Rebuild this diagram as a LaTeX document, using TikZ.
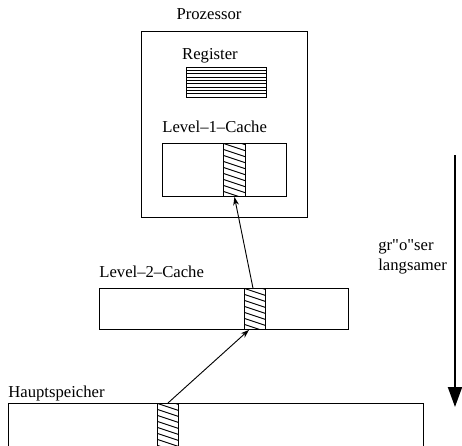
\documentclass[tikz,border=0pt]{standalone}
\usepackage{fontspec}
\setmainfont{Liberation Serif}[Ligatures=TeXOff]
\usetikzlibrary{arrows.meta}
\newcommand{\px}{0.6pt}

\begin{document}
\begin{tikzpicture}[x=0.6pt,y=-0.6pt,>={Stealth[length=5pt,width=3.5pt]},
  box/.style={draw,line width=0.55pt,anchor=north west,inner sep=0pt},
  hatched/.style={box,path picture={
    \foreach \k in {-8,...,12}
      \draw[line width=0.55pt] (path picture bounding box.north west) ++(0,\k*6) -- ++(30,10);}},
  lbl/.style={anchor=west,inner sep=0pt,font=\fontsize{10}{12}\selectfont}]
  \useasboundingbox (0,0) rectangle (462,445);
  \clip (0,0) rectangle (462,445);
  % Prozessor
  \node[box,minimum width=166*\px,minimum height=186*\px] (cpu) at (141,31) {};
  \node[lbl,anchor=center] (cpulbl) at (209,14) {Prozessor};
  \node[box,minimum width=80*\px,minimum height=30*\px] (reg) at (186,67) {};
  \foreach \i in {1,...,8}
    \draw[line width=0.55pt] ([yshift=-\i*3.33*\px]reg.north west) -- ([yshift=-\i*3.33*\px]reg.north east);
  \node[lbl,anchor=center] (reglbl) at (210,56) {Register};
  \node[box,minimum width=124*\px,minimum height=53*\px] (l1) at (162,143) {};
  \node[hatched,minimum width=22*\px,minimum height=53*\px] (l1hatch) at (223,143) {};
  \node[lbl] (l1lbl) at (162,127) {Level–1–Cache};
  % Level-2-Cache
  \node[box,minimum width=249*\px,minimum height=41*\px] (l2) at (99,288) {};
  \node[hatched,minimum width=21*\px,minimum height=41*\px] (l2hatch) at (244,288) {};
  \node[lbl] (l2lbl) at (99,272) {Level–2–Cache};
  % Hauptspeicher
  \node[box,minimum width=415*\px,minimum height=60*\px] (mem) at (8,403) {};
  \node[hatched,minimum width=21*\px,minimum height=60*\px] (memhatch) at (157,403) {};
  \node[lbl] (memlbl) at (8,393) {Hauptspeicher};
  % Pfeile
  \draw[->,line width=0.55pt] ([xshift=-2*\px]l2hatch.north) -- (l1hatch.south);
  \draw[->,line width=0.55pt] (memhatch.north) -- ([xshift=-6*\px]l2hatch.south);
  \coordinate (top) at (455,155);
  \coordinate (bot) at (455,407);
  \draw[-{Triangle[length=12pt,width=8.4pt]},line width=1.2pt] (top) -- (bot);
  \node[lbl,align=left] (txt) at (378,257) {gr"o"ser\\langsamer};
\end{tikzpicture}
\end{document}
